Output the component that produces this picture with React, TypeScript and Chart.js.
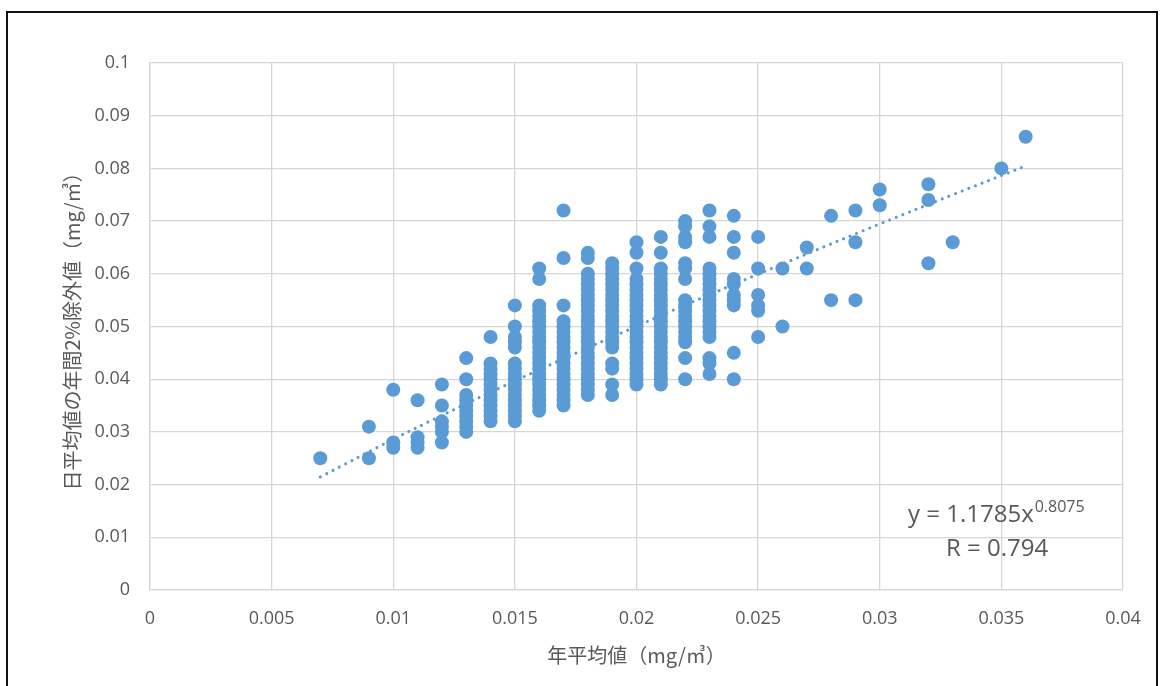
import React, { useEffect, useRef } from "react";
import { Chart, registerables } from "chart.js";

Chart.register(...registerables);

// ---- data ----
const xValues = [
  0.007, 0.009, 0.010, 0.011, 0.012, 0.013, 0.014, 0.015, 0.016, 0.017,
  0.018, 0.019, 0.020, 0.021, 0.022, 0.023, 0.024, 0.025, 0.026, 0.027,
  0.028, 0.029, 0.030, 0.032, 0.033, 0.035, 0.036,
];

const yColumns: number[][] = [
  [0.025],
  [0.031, 0.025],
  [0.038, 0.028, 0.027],
  [0.036, 0.029, 0.028, 0.027],
  [0.039, 0.035, 0.032, 0.031, 0.030, 0.028],
  [0.044, 0.040, 0.037, 0.036, 0.035, 0.034, 0.033, 0.032, 0.031, 0.030],
  [0.048, 0.043, 0.042, 0.041, 0.040, 0.039, 0.038, 0.037, 0.036, 0.035, 0.034, 0.033, 0.032],
  [0.054, 0.050, 0.048, 0.047, 0.046, 0.043, 0.042, 0.041, 0.040, 0.039, 0.038, 0.037, 0.036, 0.035, 0.034, 0.033, 0.032],
  [0.061, 0.059, 0.054, 0.053, 0.052, 0.051, 0.050, 0.049, 0.048, 0.047, 0.046, 0.045, 0.044, 0.043, 0.042, 0.041, 0.040, 0.039, 0.038, 0.037, 0.036, 0.035, 0.034],
  [0.072, 0.063, 0.054, 0.051, 0.050, 0.049, 0.048, 0.047, 0.046, 0.045, 0.044, 0.043, 0.042, 0.041, 0.040, 0.039, 0.038, 0.037, 0.036, 0.035],
  [0.064, 0.063, 0.060, 0.059, 0.058, 0.057, 0.056, 0.055, 0.054, 0.053, 0.052, 0.051, 0.050, 0.049, 0.048, 0.047, 0.046, 0.045, 0.044, 0.043, 0.042, 0.041, 0.040, 0.039, 0.038, 0.037],
  [0.062, 0.061, 0.060, 0.059, 0.058, 0.057, 0.056, 0.055, 0.054, 0.053, 0.052, 0.051, 0.050, 0.049, 0.048, 0.047, 0.046, 0.043, 0.042, 0.039, 0.037],
  [0.066, 0.064, 0.061, 0.059, 0.058, 0.057, 0.056, 0.055, 0.054, 0.053, 0.052, 0.051, 0.050, 0.049, 0.048, 0.047, 0.046, 0.045, 0.044, 0.043, 0.042, 0.041, 0.040, 0.039],
  [0.067, 0.064, 0.061, 0.060, 0.059, 0.058, 0.057, 0.056, 0.055, 0.054, 0.053, 0.052, 0.051, 0.050, 0.049, 0.048, 0.047, 0.046, 0.045, 0.044, 0.043, 0.042, 0.041, 0.040, 0.039],
  [0.070, 0.069, 0.067, 0.066, 0.062, 0.061, 0.059, 0.055, 0.054, 0.053, 0.052, 0.051, 0.050, 0.049, 0.048, 0.047, 0.044, 0.040],
  [0.072, 0.069, 0.067, 0.061, 0.060, 0.059, 0.058, 0.057, 0.056, 0.055, 0.054, 0.053, 0.052, 0.051, 0.050, 0.049, 0.048, 0.044, 0.043, 0.041],
  [0.071, 0.067, 0.064, 0.059, 0.058, 0.056, 0.055, 0.054, 0.045, 0.040],
  [0.067, 0.061, 0.056, 0.054, 0.053, 0.048],
  [0.061, 0.050],
  [0.065, 0.061],
  [0.071, 0.055],
  [0.072, 0.066, 0.055],
  [0.076, 0.073],
  [0.077, 0.074, 0.062],
  [0.066],
  [0.080],
  [0.086],
];

// power trendline y = 1.1785 x^0.8075, values read at these x
const trendX = [0.007, 0.010, 0.012, 0.015, 0.017, 0.020, 0.022, 0.025, 0.027, 0.030, 0.033, 0.036];
const trendY = [0.02144, 0.02860, 0.03313, 0.03968, 0.04389, 0.05005, 0.05406, 0.05993, 0.06377, 0.06945, 0.07500, 0.08047];

const xTickLabels = ["0", "0.005", "0.01", "0.015", "0.02", "0.025", "0.03", "0.035", "0.04"];
const yTickLabels = ["0", "0.01", "0.02", "0.03", "0.04", "0.05", "0.06", "0.07", "0.08", "0.09", "0.1"];

const eqMain = "y = 1.1785x";
const eqExp = "0.8075";
const eqR = "R = 0.794";

const xTitle = "年平均値（mg/㎥）";
const yTitle = "日平均値の年間2%除外値（mg/㎥）";

const BLUE = "#5B9BD5";
const TXT = "#595959";
const GRID = "#D6D6D6";
const FONT = "'Open Sans', 'Noto Sans CJK JP', sans-serif";
const CJK = "'Noto Sans CJK JP', 'Open Sans', sans-serif";

const equationPlugin = {
  id: "equationText",
  afterDatasetsDraw(chart: any) {
    const { ctx, chartArea } = chart;
    ctx.save();
    ctx.fillStyle = TXT;
    ctx.textBaseline = "middle";
    ctx.textAlign = "left";
    ctx.font = `24px ${FONT}`;
    const x0 = chartArea.right - 215;
    const y0 = chartArea.bottom - 75;
    ctx.fillText(eqMain, x0, y0);
    const w = ctx.measureText(eqMain).width;
    ctx.font = `16px ${FONT}`;
    ctx.fillText(eqExp, x0 + w + 1, y0 - 8);
    ctx.font = `24px ${FONT}`;
    ctx.fillText(eqR, chartArea.right - 177, chartArea.bottom - 41);
    ctx.restore();
  },
};

export default function App() {
  const ref = useRef<HTMLCanvasElement | null>(null);

  useEffect(() => {
    if (!ref.current) return;
    const points = xValues.flatMap((x, i) => yColumns[i].map((y) => ({ x, y })));
    const trend = trendX.map((x, i) => ({ x, y: trendY[i] }));

    const chart = new Chart(ref.current, {
      type: "scatter",
      data: {
        datasets: [
          {
            type: "line",
            data: trend,
            borderColor: BLUE,
            borderWidth: 3,
            borderDash: [0.1, 7],
            borderCapStyle: "round",
            pointRadius: 0,
            fill: false,
            tension: 0.4,
            order: 0,
          } as any,
          {
            data: points,
            backgroundColor: BLUE,
            borderColor: BLUE,
            borderWidth: 0,
            pointRadius: 7,
            pointHoverRadius: 7,
            order: 1,
          },
        ],
      },
      options: {
        animation: false,
        responsive: false,
        maintainAspectRatio: false,
        events: [],
        layout: { padding: { left: 56, top: 63, right: 40, bottom: 15 } },
        plugins: { legend: { display: false }, tooltip: { enabled: false } },
        scales: {
          x: {
            type: "linear",
            min: 0,
            max: 0.04,
            afterBuildTicks: (scale: any) => {
              scale.ticks = xTickLabels.map((t) => ({ value: Number(t) }));
            },
            afterFit: (scale: any) => {
              scale.height = 81;
            },
            grid: { color: GRID, lineWidth: 1.3, drawTicks: false },
            border: { color: GRID, width: 1.3 },
            ticks: {
              padding: 18,
              color: TXT,
              font: { family: FONT, size: 18 },
              maxRotation: 0,
              callback: (_v: any, i: number) => xTickLabels[i],
            },
            title: { display: true, text: xTitle, color: TXT, font: { family: CJK, size: 20 } },
          },
          y: {
            type: "linear",
            min: 0,
            max: 0.1,
            afterBuildTicks: (scale: any) => {
              scale.ticks = yTickLabels.map((t) => ({ value: Number(t) }));
            },
            afterFit: (scale: any) => {
              scale.width = 94;
            },
            grid: { color: GRID, lineWidth: 1.3, drawTicks: false },
            border: { color: GRID, width: 1.3 },
            ticks: {
              padding: 20,
              color: TXT,
              font: { family: FONT, size: 18 },
              callback: (_v: any, i: number) => yTickLabels[i],
            },
            title: { display: true, text: yTitle, color: TXT, font: { family: CJK, size: 20 } },
          },
        },
      },
      plugins: [equationPlugin],
    });
    return () => chart.destroy();
  }, []);

  return (
    <div style={{ position: "fixed", left: 0, top: 0, width: 1163, height: 686, overflow: "hidden", background: "#fff" }}>
      <canvas ref={ref} width={1163} height={686} style={{ position: "absolute", left: 0, top: 0, width: 1163, height: 686 }} />
      <div
        style={{
          position: "absolute",
          left: 6,
          top: 11,
          width: 1152,
          height: 690,
          border: "2px solid #111",
          boxSizing: "border-box",
          pointerEvents: "none",
        }}
      />
    </div>
  );
}
